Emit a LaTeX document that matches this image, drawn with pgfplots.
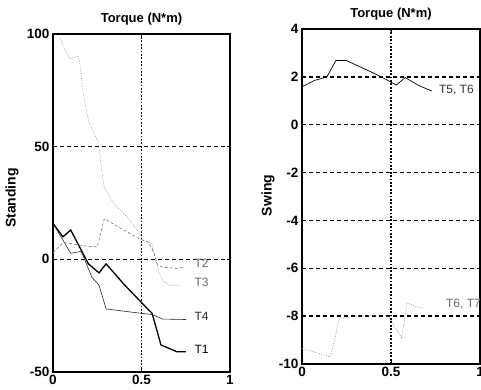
\documentclass[border=0pt]{standalone}
\usepackage{pgfplots}
\pgfplotsset{compat=1.18}
\usepackage{fontspec}
\setmainfont{Liberation Sans}
\tikzset{lab/.style={anchor=west, font=\fontsize{12}{14}\selectfont}}
\pgfplotsset{
  mystyle/.style={
    scale only axis,
    axis line style={line width=1.2pt},
    tick style={black, line width=0.6pt},
    tick align=inside,
    major tick length=3pt,
    ticklabel style={font=\fontsize{13.5}{15}\selectfont\bfseries},
    /pgf/number format/assume math mode=true,
    xmajorgrids, ymajorgrids,
    y grid style={black, line width=1.3pt, dash pattern=on 4pt off 3pt},
    x grid style={black, line width=1.3pt, dash pattern=on 1.8pt off 1.6pt},
    title style={font=\fontsize{13}{15}\selectfont\bfseries, yshift=-1pt},
    ylabel style={font=\fontsize{14}{16}\selectfont\bfseries, at={(axis description cs:0,0.5)}, anchor=center},
    clip mode=individual,
    xmin=0, xmax=1,
    xtick={0,0.5,1},
    xticklabels={0,0.5,1},
  },
}
\begin{document}
\begin{tikzpicture}
\begin{axis}[mystyle,
  at={(53pt,17pt)}, anchor=south west,
  width=177pt, height=338pt,
  ymin=-50, ymax=100, ytick={-50,0,50,100},
  title={Torque (N*m)},
  ylabel={Standing},
  ylabel style={xshift=5pt, yshift=41pt},
]
% T1
\addplot[black, line width=1.3pt] coordinates {
(0,16) (0.056,10) (0.10,13) (0.18,1) (0.20,-2) (0.26,-6) (0.30,-2) (0.40,-11) (0.51,-20) (0.56,-24) (0.61,-38) (0.70,-41) (0.75,-41)};
% T4
\addplot[black!85, line width=0.6pt] coordinates {
(0,16) (0.10,2.7) (0.16,3.5) (0.22,-8) (0.26,-11.5) (0.30,-22) (0.45,-23.5) (0.56,-24.5) (0.62,-26.5) (0.75,-26.7)};
% T2
\addplot[black!55, line width=0.6pt, dash pattern=on 3pt off 2pt] coordinates {
(0,3) (0.06,7.5) (0.10,7) (0.17,6) (0.25,5.5) (0.29,18) (0.40,13) (0.49,9) (0.54,7.5) (0.57,3) (0.59,-2.5) (0.62,-3.5) (0.70,-4) (0.74,-3.5)};
% T3
\addplot[black!40, line width=0.6pt, dash pattern=on 1pt off 1.5pt] coordinates {
(0.04,98) (0.068,93) (0.096,89) (0.14,90) (0.15,88) (0.16,81) (0.17,74) (0.18,70) (0.19,65) (0.21,59.5) (0.25,53) (0.27,45) (0.27,42.7) (0.28,36) (0.29,32) (0.32,28) (0.34,25) (0.42,18.7) (0.49,11.5) (0.51,8.4) (0.56,7) (0.565,4) (0.59,-2.7) (0.60,-6) (0.62,-9.5) (0.66,-11.5) (0.72,-11.5)};
\node[lab, text=black] at (axis cs:0.78,-40) {T1};
\node[lab, text=black!85] at (axis cs:0.78,-25.3) {T4};
\node[lab, text=black!60] at (axis cs:0.78,-10.2) {T3};
\node[lab, text=black!60] at (axis cs:0.78,-1.8) {T2};
\end{axis}
\begin{axis}[mystyle,
  at={(302pt,25pt)}, anchor=south west,
  width=178pt, height=335pt,
  ymin=-10, ymax=4, ytick={-10,-8,-6,-4,-2,0,2,4},
  title={Torque (N*m)},
  ylabel={Swing},
  ylabel style={xshift=1pt, yshift=34pt},
]
% T5, T6
\addplot[black, line width=0.7pt] coordinates {
(0,1.58) (0.07,1.85) (0.14,2.0) (0.19,2.68) (0.25,2.68) (0.39,2.2) (0.47,1.9) (0.53,1.66) (0.58,1.97) (0.66,1.62) (0.73,1.41)};
% T6, T7
\addplot[black!45, line width=0.6pt, dash pattern=on 1pt off 1.5pt] coordinates {
(0,-9.35) (0.16,-9.7) (0.21,-8.1) (0.32,-8.0) (0.47,-7.95) (0.50,-8.2) (0.56,-8.9) (0.59,-7.45) (0.64,-7.6) (0.68,-7.65)};
\node[lab, text=black!80] at (axis cs:0.75,1.45) {T5, T6};
\node[lab, text=black!60] at (axis cs:0.79,-7.5) {T6, T7};
\end{axis}
\pgfresetboundingbox
\path[use as bounding box] (0pt,0pt) rectangle (481pt,389pt);
\end{tikzpicture}
\end{document}
